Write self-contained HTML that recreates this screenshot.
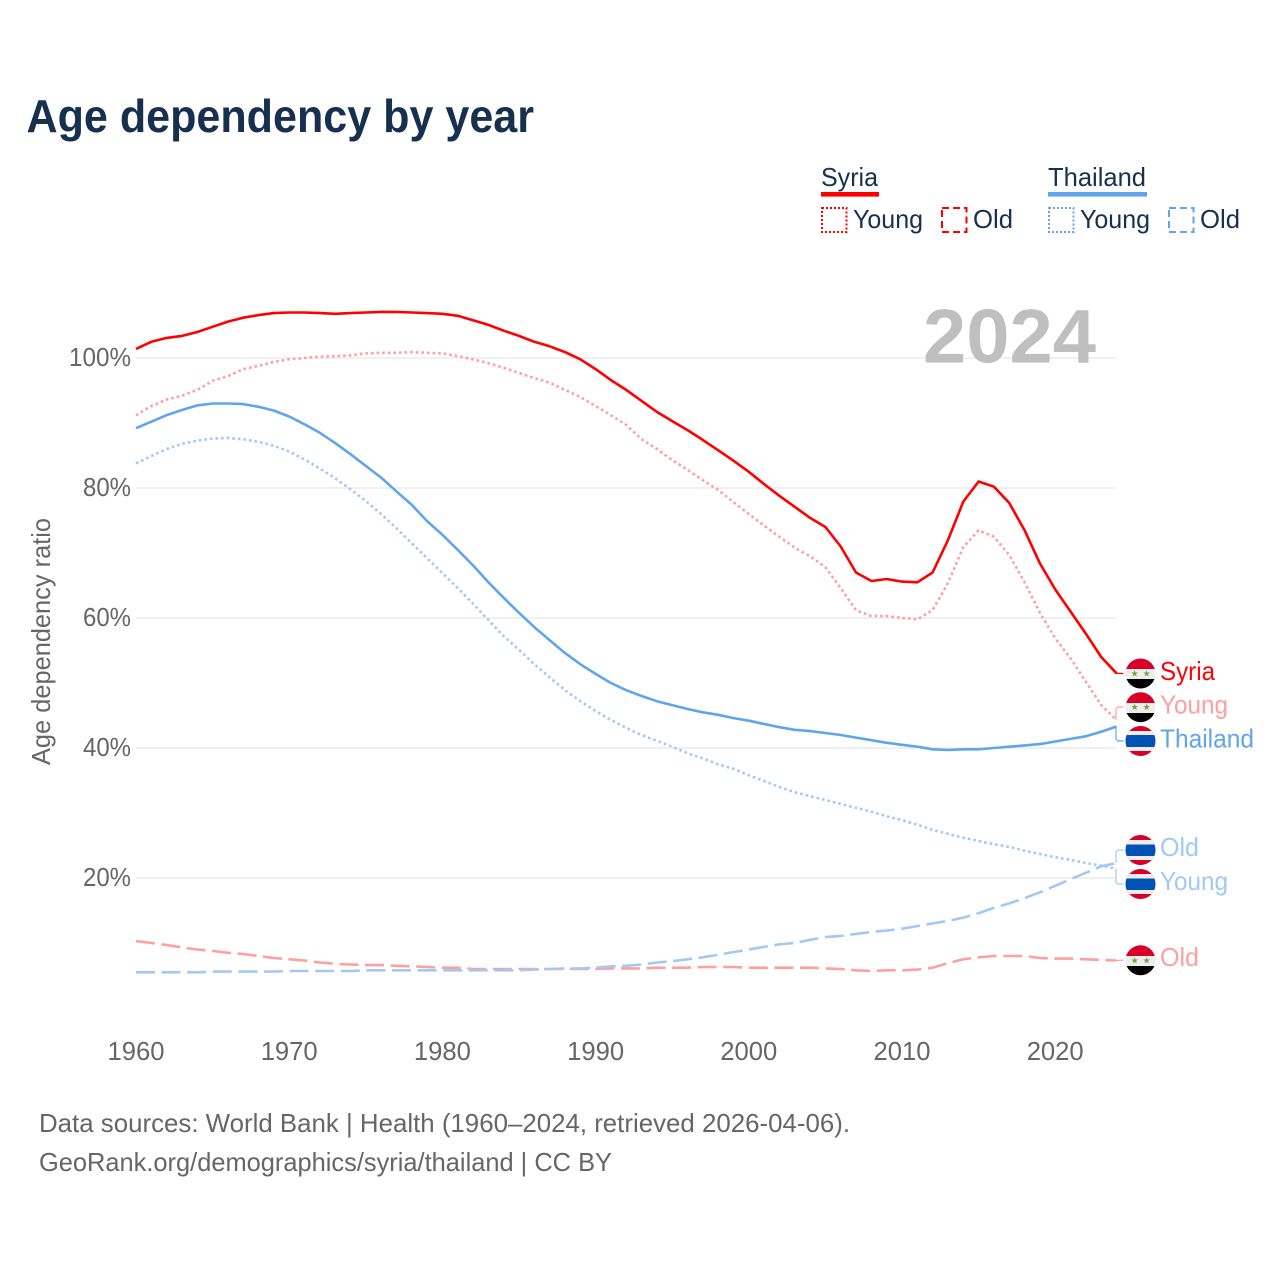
<!DOCTYPE html>
<html lang="en">
<head>
<meta charset="utf-8">
<title>Age dependency by year</title>
<style>
html,body{margin:0;padding:0;background:#fff;}
svg{display:block;}
text{font-family:"Liberation Sans",sans-serif;}
</style>
</head>
<body>
<svg id="chart" width="1280" height="1280" viewBox="0 0 1280 1280" xmlns="http://www.w3.org/2000/svg">
<defs>
<clipPath id="c1"><circle cx="1140.5" cy="673.5" r="15"/></clipPath>
<clipPath id="c2"><circle cx="1140.5" cy="707.2" r="15"/></clipPath>
<clipPath id="c3"><circle cx="1140.5" cy="741" r="15"/></clipPath>
<clipPath id="c4"><circle cx="1140.5" cy="850" r="15"/></clipPath>
<clipPath id="c5"><circle cx="1140.5" cy="884" r="15"/></clipPath>
<clipPath id="c6"><circle cx="1140.5" cy="960.3" r="15"/></clipPath>
</defs>
<rect width="1280" height="1280" fill="#fff"/>
<text x="26.5" y="132" font-size="46" font-weight="700" fill="#17304f" textLength="507.5" lengthAdjust="spacingAndGlyphs">Age dependency by year</text>

<g font-size="26" fill="#17304f">
  <text x="821" y="186" textLength="57" lengthAdjust="spacingAndGlyphs">Syria</text>
  <rect x="821" y="192" width="58" height="4.6" fill="#ff0000"/>
  <rect x="822" y="208" width="24.5" height="24" fill="none" stroke="#ff0000" stroke-width="2" stroke-dasharray="2 2"/>
  <text x="853" y="228" textLength="70" lengthAdjust="spacingAndGlyphs">Young</text>
  <rect x="942" y="208" width="24.5" height="24" fill="none" stroke="#ff0000" stroke-width="2" stroke-dasharray="7 4"/>
  <text x="973" y="228" textLength="40" lengthAdjust="spacingAndGlyphs">Old</text>
  <text x="1048" y="186" textLength="98" lengthAdjust="spacingAndGlyphs">Thailand</text>
  <rect x="1048" y="192" width="99" height="4.6" fill="#60a5ec"/>
  <rect x="1049" y="208" width="24.5" height="24" fill="none" stroke="#60a5ec" stroke-width="2" stroke-dasharray="2 2"/>
  <text x="1080" y="228" textLength="70" lengthAdjust="spacingAndGlyphs">Young</text>
  <rect x="1169" y="208" width="24.5" height="24" fill="none" stroke="#60a5ec" stroke-width="2" stroke-dasharray="7 4"/>
  <text x="1200" y="228" textLength="40" lengthAdjust="spacingAndGlyphs">Old</text>
</g>

<g id="grid"></g>
<g id="yticks"></g>
<g id="xticks"></g>
<text transform="translate(50,765) rotate(-90)" font-size="26" fill="#666" textLength="247" lengthAdjust="spacingAndGlyphs">Age dependency ratio</text>
<text x="923" y="362.5" font-size="76" font-weight="700" fill="#bfbfbf" textLength="173" lengthAdjust="spacingAndGlyphs">2024</text>

<g id="series"></g>
<g id="connectors"></g>

<g font-size="26">
  <g clip-path="url(#c1)">
    <rect x="1125" y="658" width="31" height="11" fill="#d80027"/><rect x="1125" y="669" width="31" height="10" fill="#eeeeee"/><rect x="1125" y="679" width="31" height="11" fill="#000"/>
    <text x="1134.7" y="676.5" font-size="9" text-anchor="middle" fill="#6da544" font-family="DejaVu Sans">★</text><text x="1146.7" y="676.5" font-size="9" text-anchor="middle" fill="#6da544" font-family="DejaVu Sans">★</text>
  </g>
  <text x="1160" y="680" fill="#ff0000" textLength="55" lengthAdjust="spacingAndGlyphs">Syria</text>
  <g clip-path="url(#c2)">
    <rect x="1125" y="692" width="31" height="11" fill="#d80027"/><rect x="1125" y="703" width="31" height="10" fill="#eeeeee"/><rect x="1125" y="713" width="31" height="11" fill="#000"/>
    <text x="1134.7" y="710.2" font-size="9" text-anchor="middle" fill="#6da544" font-family="DejaVu Sans">★</text><text x="1146.7" y="710.2" font-size="9" text-anchor="middle" fill="#6da544" font-family="DejaVu Sans">★</text>
  </g>
  <text x="1160" y="713.5" fill="#ff9f9f" textLength="68" lengthAdjust="spacingAndGlyphs">Young</text>
  <g clip-path="url(#c3)">
    <rect x="1125" y="725" width="31" height="32" fill="#d80027"/><rect x="1125" y="731" width="31" height="20" fill="#eeeeee"/><rect x="1125" y="735" width="31" height="12" fill="#0052b4"/>
  </g>
  <text x="1160" y="747.5" fill="#60a5ec" textLength="94" lengthAdjust="spacingAndGlyphs">Thailand</text>
  <g clip-path="url(#c4)">
    <rect x="1125" y="834" width="31" height="32" fill="#d80027"/><rect x="1125" y="840" width="31" height="20" fill="#eeeeee"/><rect x="1125" y="844.5" width="31" height="11.5" fill="#0052b4"/>
  </g>
  <text x="1160" y="856" fill="#a3c9f3" textLength="39" lengthAdjust="spacingAndGlyphs">Old</text>
  <g clip-path="url(#c5)">
    <rect x="1125" y="868" width="31" height="32" fill="#d80027"/><rect x="1125" y="874" width="31" height="20" fill="#eeeeee"/><rect x="1125" y="878.5" width="31" height="11.5" fill="#0052b4"/>
  </g>
  <text x="1160" y="890" fill="#a3c9f3" textLength="68" lengthAdjust="spacingAndGlyphs">Young</text>
  <g clip-path="url(#c6)">
    <rect x="1125" y="945" width="31" height="11" fill="#d80027"/><rect x="1125" y="956" width="31" height="10" fill="#eeeeee"/><rect x="1125" y="966" width="31" height="11" fill="#000"/>
    <text x="1134.7" y="963.3" font-size="9" text-anchor="middle" fill="#6da544" font-family="DejaVu Sans">★</text><text x="1146.7" y="963.3" font-size="9" text-anchor="middle" fill="#6da544" font-family="DejaVu Sans">★</text>
  </g>
  <text x="1160" y="966" fill="#ff9f9f" textLength="39" lengthAdjust="spacingAndGlyphs">Old</text>
</g>

<text x="39" y="1132" font-size="26" fill="#666" textLength="811" lengthAdjust="spacingAndGlyphs">Data sources: World Bank | Health (1960–2024, retrieved 2026-04-06).</text>
<text x="39" y="1171" font-size="26" fill="#666" textLength="573" lengthAdjust="spacingAndGlyphs">GeoRank.org/demographics/syria/thailand | CC BY</text>

<script>
var firstYear = 1960;
var xTickYears = [1960, 1970, 1980, 1990, 2000, 2010, 2020];
var yTickValues = [20, 40, 60, 80, 100];

var syriaTotal = [101.4,102.5,103.1,103.4,104.0,104.8,105.6,106.2,106.6,106.9,107.0,107.0,106.9,106.8,106.9,107.0,107.1,107.1,107.0,106.9,106.8,106.5,105.8,105.1,104.2,103.4,102.5,101.8,100.9,99.8,98.3,96.6,95.1,93.4,91.7,90.3,88.9,87.4,85.8,84.2,82.5,80.6,78.8,77.1,75.4,74.0,71.0,67.0,65.7,66.0,65.6,65.5,67.0,72.0,77.9,81.0,80.2,77.7,73.5,68.4,64.4,61.0,57.6,54.0,51.5];
var syriaYoung = [91.2,92.6,93.6,94.2,95.1,96.5,97.2,98.3,98.8,99.4,99.8,100.0,100.2,100.3,100.4,100.7,100.8,100.8,100.9,100.8,100.7,100.3,99.8,99.2,98.5,97.7,96.9,96.2,95.1,94.0,92.6,91.2,89.7,87.5,86.0,84.3,82.8,81.2,79.7,77.8,76.0,74.2,72.5,70.8,69.5,67.8,64.6,61.2,60.3,60.3,60.0,59.8,61.2,65.4,70.9,73.5,72.5,69.7,65.5,60.8,56.9,53.8,50.2,46.6,44.3];
var syriaOld = [10.3,10.0,9.7,9.3,9.0,8.8,8.5,8.3,8.0,7.7,7.5,7.3,7.0,6.8,6.7,6.6,6.6,6.5,6.4,6.3,6.2,6.2,6.0,6.0,6.0,6.0,6.0,6.0,6.0,6.0,6.0,6.1,6.1,6.1,6.2,6.2,6.2,6.3,6.3,6.3,6.2,6.2,6.2,6.2,6.2,6.1,6.0,5.8,5.7,5.8,5.8,5.9,6.2,6.9,7.5,7.8,8.0,8.0,8.0,7.7,7.6,7.6,7.5,7.4,7.3];
var thailandTotal = [89.2,90.2,91.2,92.0,92.7,93.0,93.0,92.9,92.5,91.9,91.0,89.8,88.5,86.9,85.2,83.4,81.6,79.5,77.4,74.9,72.8,70.5,68.1,65.5,63.1,60.8,58.6,56.6,54.6,52.9,51.4,50.0,48.9,48.0,47.2,46.6,46.0,45.5,45.1,44.6,44.2,43.7,43.2,42.8,42.6,42.3,42.0,41.6,41.2,40.8,40.5,40.2,39.8,39.7,39.8,39.8,40.0,40.2,40.4,40.6,41.0,41.4,41.8,42.5,43.3];
var thailandYoung = [83.8,84.9,86.0,86.8,87.3,87.6,87.7,87.5,87.1,86.5,85.6,84.4,83.0,81.5,79.8,78.0,76.0,73.8,71.5,69.2,66.9,64.6,62.2,59.7,57.2,55.1,52.9,50.9,48.9,47.2,45.7,44.3,43.1,42.0,41.1,40.2,39.2,38.4,37.5,36.8,35.8,34.9,34.0,33.2,32.6,32.0,31.4,30.8,30.2,29.5,28.9,28.2,27.4,26.8,26.2,25.7,25.2,24.8,24.2,23.7,23.2,22.8,22.3,21.9,21.4];
var thailandOld = [5.5,5.5,5.5,5.5,5.5,5.6,5.6,5.6,5.6,5.6,5.7,5.7,5.7,5.7,5.7,5.8,5.8,5.8,5.8,5.8,5.8,5.8,5.8,5.8,5.8,5.8,5.9,6.0,6.1,6.1,6.2,6.4,6.5,6.7,7.0,7.2,7.5,7.8,8.2,8.6,9.0,9.4,9.8,10.0,10.5,10.9,11.1,11.4,11.7,11.9,12.2,12.6,13.0,13.4,13.9,14.6,15.4,16.1,16.9,17.8,18.8,19.8,20.8,21.8,22.3];

var NS = 'http://www.w3.org/2000/svg';
function xScale(year) { return 136 + (year - 1960) * 15.32; }
function yScale(v) { return 1008 - v * 6.5; }

var gridG = document.getElementById('grid');
var yG = document.getElementById('yticks');
yTickValues.forEach(function (v) {
  var g = document.createElementNS(NS, 'line');
  
  
  g.setAttribute('x1', 136);
  g.setAttribute('x2', xScale(2024));
  g.setAttribute('y1', yScale(v));
  g.setAttribute('y2', yScale(v));
  g.setAttribute('stroke', '#e8e8e8');
  g.setAttribute('stroke-width', '1.2');
  gridG.appendChild(g);
  var t = document.createElementNS(NS, 'text');
  
  
  t.setAttribute('x', 131);
  t.setAttribute('y', yScale(v) + 8);
  t.setAttribute('text-anchor', 'end');
  t.setAttribute('font-size', '26');
  t.setAttribute('fill', '#666');
  t.setAttribute('textLength', v >= 100 ? 62 : 48);
  t.setAttribute('lengthAdjust', 'spacingAndGlyphs');
  t.textContent = v + '%';
  yG.appendChild(t);
});

var xG = document.getElementById('xticks');
xTickYears.forEach(function (yr) {
  var t = document.createElementNS(NS, 'text');
  
  
  t.setAttribute('x', xScale(yr));
  t.setAttribute('y', 1060);
  t.setAttribute('text-anchor', 'middle');
  t.setAttribute('font-size', '26');
  t.setAttribute('fill', '#666');
  t.setAttribute('textLength', 57);
  t.setAttribute('lengthAdjust', 'spacingAndGlyphs');
  t.textContent = yr;
  xG.appendChild(t);
});

function linePoints(values) {
  return values.map(function (v, i) {
    return xScale(firstYear + i).toFixed(1) + ',' + yScale(v).toFixed(1);
  }).join(' ');
}

var seriesG = document.getElementById('series');
function drawSeries(name, values, color, dash) {
  var p = document.createElementNS(NS, 'polyline');
  
  
  p.setAttribute('points', linePoints(values));
  p.setAttribute('fill', 'none');
  p.setAttribute('stroke', color);
  p.setAttribute('stroke-width', '2.6');
  p.setAttribute('stroke-linejoin', 'round');
  if (dash) { p.setAttribute('stroke-dasharray', dash); }
  seriesG.appendChild(p);
}
drawSeries('line-syria-old', syriaOld, '#ff9f9f', '19 6.6');
drawSeries('line-thailand-old', thailandOld, '#a3c9f3', '19 6.6');
drawSeries('line-syria-young', syriaYoung, '#ff9f9f', '2.6 3');
drawSeries('line-thailand-young', thailandYoung, '#a3c9f3', '2.6 3');
drawSeries('line-thailand-total', thailandTotal, '#60a5ec', '');
drawSeries('line-syria-total', syriaTotal, '#ff0000', '');

var connG = document.getElementById('connectors');
function drawConnector(name, values, labelY, color) {
  var sx = xScale(2024) - 0.5;
  var sy = yScale(values[values.length - 1]);
  var dir = labelY > sy ? -1 : 1;
  var d;
  if (Math.abs(labelY - sy) < 3) {
    d = 'M' + sx + ' ' + sy + 'L1123.5 ' + labelY;
  } else {
    d = 'M' + sx + ' ' + sy + 'L' + sx + ' ' + (labelY + dir * 2) + 'L' + (sx + 2) + ' ' + labelY + 'L1123.5 ' + labelY;
  }
  var c = document.createElementNS(NS, 'path');
  
  
  c.setAttribute('d', d);
  c.setAttribute('fill', 'none');
  c.setAttribute('stroke', color);
  c.setAttribute('stroke-width', '1.2');
  connG.appendChild(c);
}
drawConnector('connector-syria-total', syriaTotal, 673.5, '#ff0000');
drawConnector('connector-syria-young', syriaYoung, 707, '#ff9f9f');
drawConnector('connector-thailand-total', thailandTotal, 741, '#60a5ec');
drawConnector('connector-thailand-old', thailandOld, 850, '#a3c9f3');
drawConnector('connector-thailand-young', thailandYoung, 884, '#a3c9f3');
drawConnector('connector-syria-old', syriaOld, 960, '#ff9f9f');
</script>
</svg>
</body>
</html>
